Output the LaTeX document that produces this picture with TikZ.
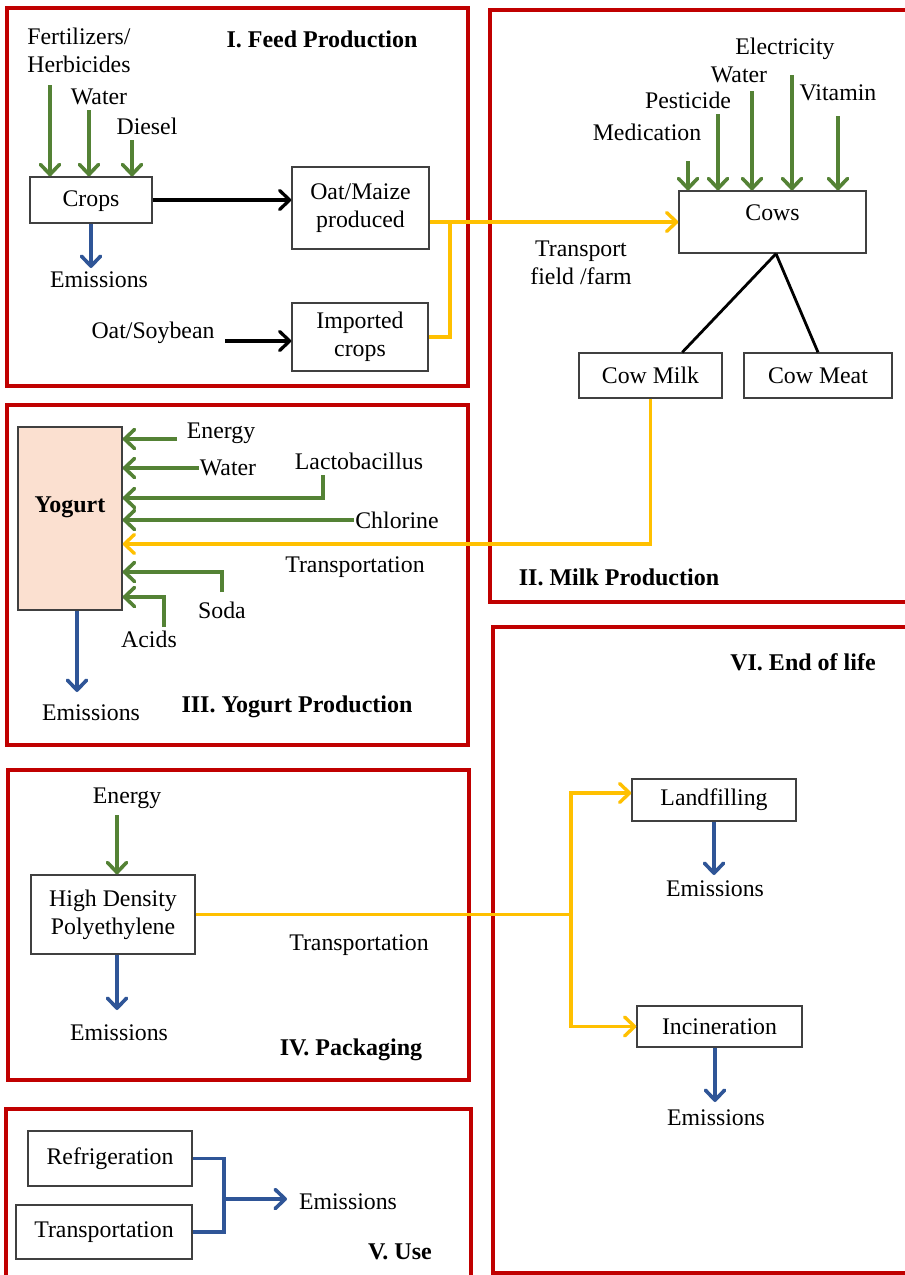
\documentclass[tikz,border=0pt]{standalone}
\usepackage{fontspec}
\setmainfont{Liberation Serif}
\usetikzlibrary{arrows.meta,calc}
\definecolor{fred}{HTML}{C00000}
\definecolor{fgreen}{HTML}{548235}
\definecolor{fblue}{HTML}{2F5597}
\definecolor{fyel}{HTML}{FFC000}
\definecolor{fpeach}{HTML}{FBE0D0}
\definecolor{fgray}{HTML}{404040}
\begin{document}
\begin{tikzpicture}[x=1pt,y=-1pt,
  every node/.style={font=\fontsize{23.8}{28}\selectfont, inner sep=1pt},
  txt/.style={align=center},
  ttl/.style={font=\fontsize{24}{28}\selectfont\bfseries},
  box/.style={draw=fgray, line width=1.4pt, align=center, inner sep=0pt},
  frame/.style={draw=fred, line width=3.8pt},
  tipb/.style={-{Straight Barb[length=10pt,width=19pt,round]}},
  garr/.style={draw=fgreen, line width=3.6pt, tipb},
  barr/.style={draw=fblue, line width=3.6pt, tipb},
  bline/.style={draw=fblue, line width=3.6pt},
  yarr/.style={draw=fyel, line width=3.4pt, tipb},
  yline/.style={draw=fyel, line width=3.4pt},
  karr/.style={draw=black, line width=3.3pt, tipb},
  kline/.style={draw=black, line width=2.8pt}
]
\begin{scope}
\clip (0,0) rectangle (905,1275);
\fill[white] (0,0) rectangle (905,1275);
\draw[frame] (7,8) rectangle (468,386);
\draw[frame] (490,10) rectangle (920,602);
\draw[frame] (7,405) rectangle (468,745);
\draw[frame] (8,770) rectangle (469,1080);
\draw[frame] (6,1109) rectangle (471,1290);
\draw[frame] (493,627) rectangle (920,1273);
\end{scope}
\useasboundingbox (0,0) rectangle (905,1275);

% ---------- I. Feed production
\node[txt] (fert) at (79,50) {Fertilizers/\\Herbicides};
\node (water1) at (99,97) {Water};
\node (diesel) at (147,126) {Diesel};
\node[box, minimum width=122pt, minimum height=46pt, text depth=3pt] (crops) at (91,200) {Crops};
\node (em1) at (99,280) {Emissions};
\node[box, minimum width=137pt, minimum height=82pt] (oatmaize) at (360.5,208) {Oat/Maize\\produced};
\node[box, minimum width=136pt, minimum height=68pt] (imported) at (360,337) {Imported\\crops};
\node (soy) at (153,333) {Oat/Soybean};
\node[ttl] (t1) at (322,39) {I. Feed Production};
\coordinate (c1) at (50,85);
\coordinate (c2) at (89,110);
\coordinate (c3) at (132,140);
\draw[garr] (c1) -- (c1 |- crops.north);
\draw[garr] (c2) -- (c2 |- crops.north);
\draw[garr] (c3) -- (c3 |- crops.north);
\coordinate (ce1) at (91,268);
\draw[barr] (crops.south) -- (ce1);
\draw[karr] (crops.east) -- (crops.east -| oatmaize.west);
\coordinate (soyend) at (225,341);
\draw[karr] (soyend) -- (soyend -| imported.west);

% ---------- II. Milk production
\node[box, minimum width=187pt, minimum height=62pt, text depth=18pt] (cows) at (772.5,222) {Cows};
\node (med) at (647,132) {Medication};
\node (pest) at (688,100) {Pesticide};
\node (water2) at (739,75) {Water};
\node (elec) at (785,49) {Electricity};
\node (vit) at (838,93) {Vitamin};
\coordinate (m1) at (688,161);
\coordinate (m2) at (718,114);
\coordinate (m3) at (752,91);
\coordinate (m4) at (792,75);
\coordinate (m5) at (838,116);
\foreach \m in {m1,m2,m3,m4,m5} \draw[garr] (\m) -- (\m |- cows.north);
\node[txt] (tff) at (581,263) {Transport\\field /farm};
\node[box, minimum width=143pt, minimum height=45pt] (milk) at (650.5,375.5) {Cow Milk};
\node[box, minimum width=148pt, minimum height=45pt] (meat) at (818,375.5) {Cow Meat};
\draw[kline] ([xshift=3.5pt]cows.south) -- ($(milk.north west)!0.72!(milk.north east)$);
\draw[kline] ([xshift=3.5pt]cows.south) -- (meat.north);
\node[ttl] (t2) at (619,577) {II. Milk Production};

\coordinate (yj) at (450,222);
\draw[yline] (imported.east) -| (yj);
\draw[yarr] (oatmaize.east |- cows.west) -- (cows.west);

% ---------- III. Yogurt production
\node[box, ttl, fill=fpeach, minimum width=104pt, minimum height=183pt, text depth=28pt] (yogurt) at (70,518.5) {Yogurt};
\node (energy3) at (221,433) {Energy};
\node (water3) at (228,468) {Water};
\node (lacto) at (359,461) {Lactobacillus};
\node (chl) at (397,520) {Chlorine};
\node (tr3) at (355,567) {Transportation};
\node (soda) at (222,610) {Soda};
\node (acids) at (149,639) {Acids};
\node (em3) at (91,713) {Emissions};
\node[ttl] (t3) at (297,707) {III. Yogurt Production};
\coordinate (e3) at (177,439);
\draw[garr] (e3) -- (e3 -| yogurt.east);
\draw[garr] (water3.west) -- (water3.west -| yogurt.east);
\coordinate (l3) at (323,475);
\draw[garr] (l3) |- ([yshift=20.5pt]yogurt.east);
\draw[garr] (chl.west) -- (chl.west -| yogurt.east);
\coordinate (s3) at (222,592);
\draw[garr] (s3) |- ([yshift=-53.5pt]yogurt.east);
\coordinate (a3) at (164,627);
\draw[garr] (a3) |- ([yshift=-78.5pt]yogurt.east);
\coordinate (ye3) at (77,692);
\draw[barr] (yogurt.south -| ye3) -- (ye3);
\coordinate (ytr) at (650,544);
\draw[yarr] (milk.south) |- (ytr -| yogurt.east);

% ---------- IV. Packaging
\node (energy4) at (127,798) {Energy};
\node[box, minimum width=164pt, minimum height=79pt] (hdpe) at (113,914.5) {High Density\\Polyethylene};
\node (em4) at (119,1033) {Emissions};
\node (tr4) at (359,945) {Transportation};
\node[ttl] (t4) at (351,1050) {IV. Packaging};
\coordinate (e4) at (117,815);
\draw[garr] (e4) -- (e4 |- hdpe.north);
\coordinate (be4) at (117,1010);
\draw[barr] (be4 |- hdpe.south) -- (be4);

% ---------- V. Use
\node[box, minimum width=164pt, minimum height=55pt] (refr) at (110,1158.5) {Refrigeration};
\node[box, minimum width=176pt, minimum height=54pt] (trans5) at (104,1232) {Transportation};
\node (em5) at (348,1202) {Emissions};
\node[ttl] (t5) at (400,1252) {V. Use};
\coordinate (bj) at (224,1199);
\draw[bline] (refr.east) -| (bj) |- (trans5.east);
\coordinate (be5) at (287,1199);
\draw[barr] (bj) -- (be5);

% ---------- VI. End of life
\node[ttl] (t6) at (803,662) {VI. End of life};
\node[box, minimum width=164pt, minimum height=42pt] (land) at (714,800) {Landfilling};
\node (em6a) at (715,889) {Emissions};
\node[box, minimum width=165pt, minimum height=41pt] (inc) at (719.5,1026.5) {Incineration};
\node (em6b) at (716,1118) {Emissions};
\coordinate (be6a) at (714,875);
\draw[barr] (land.south) -- (be6a);
\coordinate (be6b) at (715,1102);
\draw[barr] (inc.south -| be6b) -- (be6b);
\coordinate (junc) at (571,914.5);
\draw[yline] (hdpe.east) -- (junc);
\draw[yarr] (junc) |- ([yshift=7pt]land.west);
\draw[yarr] (junc) |- (inc.west);
\end{tikzpicture}
\end{document}
